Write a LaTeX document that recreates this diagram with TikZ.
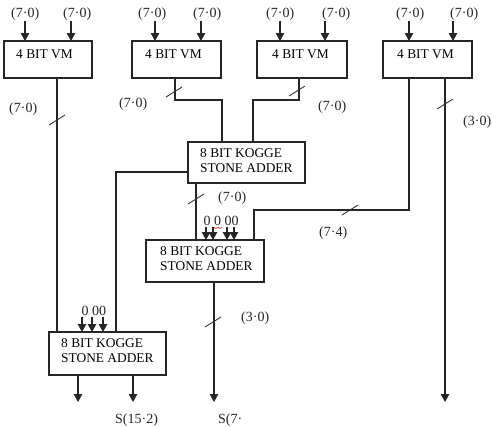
\documentclass[tikz,border=0pt]{standalone}
\usepackage{fontspec}
\setmainfont{Liberation Serif}
\usetikzlibrary{arrows.meta}
\begin{document}
\begin{tikzpicture}[x=1pt,y=-1pt,
  wire/.style={draw=black!85, line width=1.2pt},
  arr/.style={wire, -{Triangle[width=8.5pt,length=8pt]}},
  box/.style={draw=black!85, line width=1.2pt, fill=white, inner sep=0pt, outer sep=0pt, anchor=north west},
  btext/.style={anchor=base west, inner sep=0pt, font=\fontsize{13.4}{15}\selectfont, text=black},
  lbl/.style={anchor=base west, inner sep=0pt, font=\fontsize{14}{16}\selectfont, text=black!85},
  tick/.style={draw=black!80, line width=0.9pt}]
\useasboundingbox (0,0) rectangle (492,426);
\fill[white] (0,0) rectangle (492,426);

% ---------- boxes ----------
\node[box, minimum width=88pt, minimum height=37pt] (vm1) at (4,41) {};
\node[box, minimum width=89pt, minimum height=37pt] (vm2) at (132,41) {};
\node[box, minimum width=90pt, minimum height=37pt] (vm3) at (257,41) {};
\node[box, minimum width=89pt, minimum height=37pt] (vm4) at (383,41) {};
\node[box, minimum width=117pt, minimum height=41pt] (ksa1) at (188,142) {};
\node[box, minimum width=118pt, minimum height=42pt] (ksa2) at (146,240) {};
\node[box, minimum width=117pt, minimum height=43pt] (ksa3) at (49,332) {};

% ---------- box texts ----------
\node[btext] (vm1t) at (16,58) {4 BIT VM};
\node[btext] (vm2t) at (145,58) {4 BIT VM};
\node[btext] (vm3t) at (272,58) {4 BIT VM};
\node[btext] (vm4t) at (397,58) {4 BIT VM};
\node[btext] (ksa1a) at (200,157) {8 BIT KOGGE};
\node[btext] (ksa1b) at (200,172) {STONE ADDER};
\node[btext] (ksa2a) at (160,255) {8 BIT KOGGE};
\node[btext] (ksa2b) at (160,270) {STONE ADDER};
\node[btext] (ksa3a) at (61,347) {8 BIT KOGGE};
\node[btext] (ksa3b) at (61,362) {STONE ADDER};

% ---------- input labels and arrows of the multipliers ----------
\foreach \lx/\ax/\b/\n in {11/25/vm1/a, 63/71/vm1/b, 138/155/vm2/a, 193/201/vm2/b,
                           266/280/vm3/a, 322/325/vm3/b, 396/409/vm4/a, 450/453/vm4/b}{
  \node[lbl] (\b l\n) at (\lx,17.5) {(7·0)};
  \coordinate (\b i\n) at (\ax,21);
  \draw[arr] (\b i\n) -- (\b i\n |- \b.north);
}

% ---------- column / bend coordinates ----------
\coordinate (c57) at (57,0);
\coordinate (c175) at (175,100);
\coordinate (c222) at (222,100);
\coordinate (c299) at (299,100);
\coordinate (c253) at (253,100);
\coordinate (c409) at (409,210);
\coordinate (c254) at (254,210);
\coordinate (c445) at (445,402);
\coordinate (k1l) at (188,172);
\coordinate (c116) at (116,172);
\coordinate (c196) at (196,0);
\coordinate (c214) at (214,402);
\coordinate (c78) at (78,402);
\coordinate (c133) at (133,402);

% ---------- connectors ----------
\draw[wire] (vm1.south -| c57) -- (ksa3.north -| c57);
\draw[wire] (vm2.south -| c175) -- (c175) -- (c222) -- (ksa1.north -| c222);
\draw[wire] (vm3.south -| c299) -- (c299) -- (c253) -- (ksa1.north -| c253);
\draw[wire] (vm4.south -| c409) -- (c409) -- (c254) -- (ksa2.north -| c254);
\draw[arr]  (vm4.south -| c445) -- (c445);
\draw[wire] (k1l) -- (c116) -- (ksa3.north -| c116);
\draw[wire] (ksa1.south -| c196) -- (ksa2.north -| c196);
\draw[arr]  (ksa2.south -| c214) -- (c214);
\draw[arr]  (ksa3.south -| c78) -- (c78);
\draw[arr]  (ksa3.south -| c133) -- (c133);

% ---------- constant zero inputs ----------
\node[lbl] (z2) at (203.5,225) {0 0 00};
\foreach \x/\n in {206/a, 213/b, 227/c, 234/d}{
  \coordinate (z2\n) at (\x,227);
  \draw[arr] (z2\n) -- (z2\n |- ksa2.north);
}
\draw[red, line width=0.5pt] (214,227) -- (216,228.5) -- (218,227) -- (220,228.5) -- (222,227);
\node[lbl] (z3) at (81.5,315) {0 00};
\foreach \x/\n in {82/a, 92/b, 103/c}{
  \coordinate (z3\n) at (\x,317);
  \draw[arr] (z3\n) -- (z3\n |- ksa3.north);
}

% ---------- bus ticks ----------
\foreach \cx/\cy in {57/120, 174/92, 297/91, 445/104, 350/210, 196/199, 213/322}{
  \draw[tick] (\cx-8,\cy+5) -- (\cx+8,\cy-5);
}

% ---------- bus labels ----------
\node[lbl] (l1) at (9,112) {(7·0)};
\node[lbl] (l2) at (119,107) {(7·0)};
\node[lbl] (l3) at (318,110) {(7·0)};
\node[lbl] (l4) at (463,125) {(3·0)};
\node[lbl] (l5) at (319,236) {(7·4)};
\node[lbl] (l6) at (218,201) {(7·0)};
\node[lbl] (l7) at (241,321) {(3·0)};
\node[lbl] (s1) at (115,423) {S(15·2)};
\node[lbl] (s2) at (218,423) {S(7·};
\end{tikzpicture}
\end{document}
